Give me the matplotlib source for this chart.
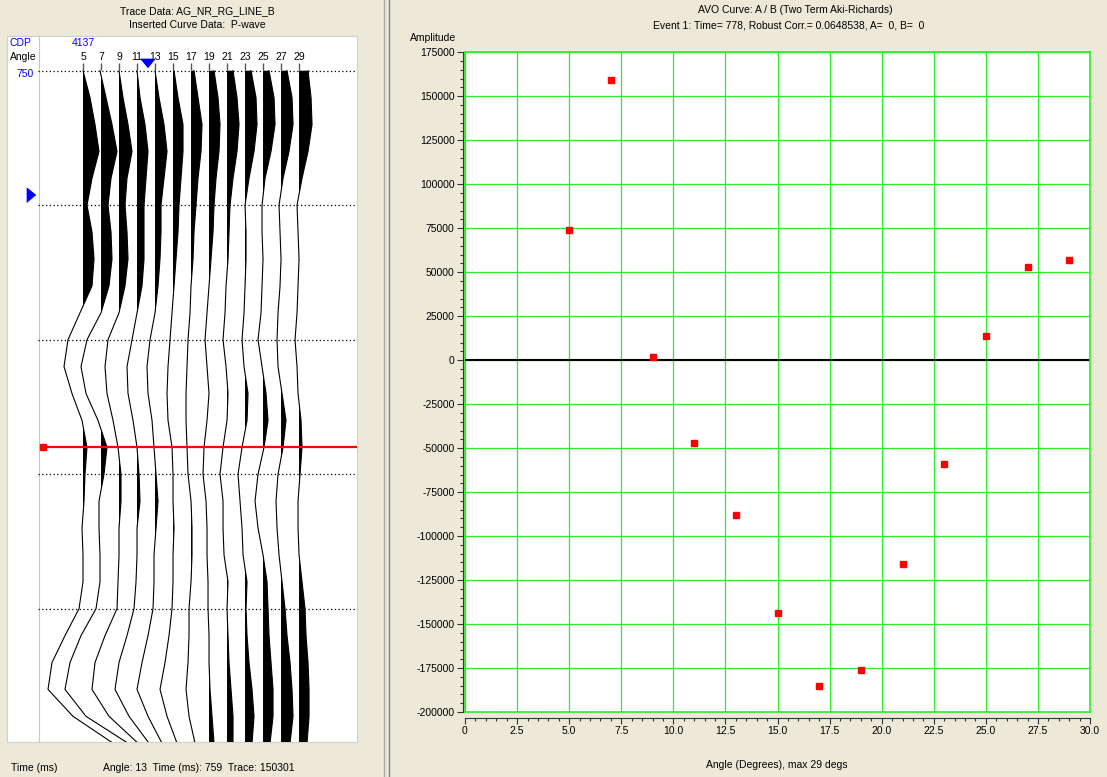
import matplotlib
matplotlib.use('Agg')
import matplotlib.pyplot as plt
import numpy as np
from matplotlib.patches import Rectangle
from matplotlib.lines import Line2D
from matplotlib.ticker import MultipleLocator, FixedLocator, FixedFormatter, FuncFormatter

# ---------------- data ----------------
# Left panel: angle gather (trace data), deflections in display units
trace_angles = [5, 7, 9, 11, 13, 15, 17, 19, 21, 23, 25, 27, 29]
sample_times = [750, 752, 754, 756, 758, 760, 762, 764, 766, 768, 770, 772, 774,
                776, 778, 780, 782, 784, 786, 788, 790, 792, 794, 796, 798, 800]
trace_05 = [0, 7, 12, 16, 9, 4, 9, 11, 9, -3, -15, -19, -11, -1, 4, 2, 1, -1, 0, 0, -4, -18, -31, -35, -10, 30]
trace_07 = [-1, 5, 11, 16, 10, 7, 10, 11, 8, 0, -14, -20, -15, -3, 6, 3, -2, -2, -1, -1, -5, -20, -31, -36, -15, 27]
trace_09 = [0, 4, 9, 13, 8, 6, 8, 9, 6, 0, -11, -14, -12, -6, -1, 2, 2, 0, 0, -1, -2, -14, -24, -27, -10, 19]
trace_11 = [0, 3, 8, 11, 9, 7, 7, 7, 5, 0, -5, -10, -9, -4, 0, 2, 3, 0, 0, -1, -3, -10, -18, -22, -8, 12]
trace_13 = [0, 4, 9, 12, 9, 6, 6, 5, 3, 0, -5, -8, -7, -3, -1, 1, 3, 1, -1, -1, -2, -7, -13, -18, -7, 7]
trace_15 = [1, 5, 10, 10, 8, 6, 5, 3, 1, -1, -3, -5, -6, -5, -1, 0, 0, 1, 0, 0, -1, -4, -8, -13, -6, 4]
trace_17 = [3, 7, 11, 10, 7, 5, 3, 2, 0, -1, -3, -4, -5, -5, -4, -3, 0, 1, 1, 0, -2, -2, -3, -5, -2, 4]
trace_19 = [5, 9, 11, 10, 7, 5, 4, 2, 0, -2, -4, -2, 0, -2, -5, -6, -3, -2, -2, -1, -1, 0, 0, 1, 3, 5]
trace_21 = [6, 10, 12, 10, 6, 3, 2, 1, -1, -2, -4, -1, 1, 0, -4, -7, -4, -4, -3, 1, 0, 1, 2, 4, 6, 6]
trace_23 = [6, 11, 12, 9, 4, 0, 1, 1, 0, -1, -3, -1, 3, 2, -3, -7, -5, -3, -2, 2, 1, 2, 4, 7, 9, 7]
trace_25 = [6, 11, 12, 8, 2, -1, -1, 0, -1, -2, -5, -1, 3, 5, 1, -5, -8, -5, 0, 4, 5, 6, 8, 10, 10, 7]
trace_27 = [6, 11, 12, 8, 2, -2, -1, 0, -1, -3, -4, -3, 1, 5, 2, -3, -5, -4, -2, 1, 4, 6, 9, 11, 12, 9]
trace_29 = [9, 12, 13, 9, 3, -2, -1, 0, -1, -2, -4, -2, -1, 2, 3, 1, -1, -1, 0, 3, 6, 7, 9, 10, 10, 8]
traces = [trace_05, trace_07, trace_09, trace_11, trace_13, trace_15, trace_17,
          trace_19, trace_21, trace_23, trace_25, trace_27, trace_29]
time_gridlines = [750, 760, 770, 780, 790]
event_time = 778
cursor_time = 759
cdp_number = '4137'

# Right panel: AVO curve points
avo_angles = [5, 7, 9, 11, 13, 15, 17, 19, 21, 23, 25, 27, 29]
avo_amplitudes = [74000, 159000, 2000, -47000, -88000, -144000, -185000,
                  -176000, -116000, -59000, 14000, 53000, 57000]
x_ticks = [0, 2.5, 5, 7.5, 10, 12.5, 15, 17.5, 20, 22.5, 25, 27.5, 30]
x_tick_labels = ['0', '2.5', '5.0', '7.5', '10.0', '12.5', '15.0', '17.5',
                 '20.0', '22.5', '25.0', '27.5', '30.0']

# ---------------- style ----------------
W, H = 1107, 777
BG = '#ECE9D8'
GREEN = '#2BEE2B'
BLUE = '#0000FF'
plt.rcParams['font.family'] = ['Liberation Sans', 'DejaVu Sans']
plt.rcParams['font.size'] = 7.5

fig = plt.figure(figsize=(W / 100, H / 100), dpi=100, facecolor=BG)


def fx(px):
    return px / W


def fy(py):
    return 1 - py / H


def rect(x0, y0, x1, y1):
    return [fx(x0), fy(y1), (x1 - x0) / W, (y1 - y0) / H]


# ---------------- left panel ----------------
fig.patches.append(Rectangle((fx(7), fy(742)), 350 / W, 706 / H, transform=fig.transFigure,
                             facecolor='white', edgecolor='#D0D0D0', lw=0.8, zorder=-5))
fig.lines.append(Line2D([fx(38.5), fx(38.5)], [fy(36), fy(742)], transform=fig.transFigure,
                        color='#C8C8C8', lw=0.8, zorder=-4))

axL = fig.add_axes(rect(38, 36, 357, 742))
XMAX_L = 35.44
axL.set_xlim(0, XMAX_L)
axL.set_ylim(799.91, 747.42)
axL.axis('off')

gain = 1 / 9.0  # display units -> angle units
times = np.asarray(sample_times, float)
for a, tr in zip(trace_angles, traces):
    amp = np.asarray(tr, float)
    xs = a + amp * gain
    pos = amp > 0
    pos[-1] = pos[-1] and pos[-2]
    axL.fill_betweenx(times, a, xs, where=pos, interpolate=True, color='black', lw=0)
    axL.plot(xs, times, color='black', lw=0.8)

axL.hlines(time_gridlines, 0, XMAX_L, colors='black', linestyles=(0, (1, 2)), lw=0.9)
axL.vlines(trace_angles, 749.45, 749.97, colors='#555555', lw=1)
for a in trace_angles:
    axL.text(a, 749.0, str(a), ha='center', va='center')

axL.hlines(event_time, 0.5, XMAX_L, colors='red', lw=1.6)
axL.plot(0.5, event_time, 's', ms=5, color='red', clip_on=False)
axL.plot(-0.83, cursor_time + 0.24, marker=[(-0.6, -1), (-0.6, 1), (0.6, 0)], ms=10,
         color=BLUE, clip_on=False, lw=0)
axL.plot(12.1, 749.46, marker=[(-1, 0.6), (1, 0.6), (0, -0.6)], ms=10,
         color=BLUE, clip_on=False, lw=0)

fig.text(fx(197.5), fy(11), 'Trace Data: AG_NR_RG_LINE_B', ha='center', va='center')
fig.text(fx(197.5), fy(25), 'Inserted Curve Data:  P-wave', ha='center', va='center')
fig.text(fx(10), fy(43), 'CDP', color=BLUE, va='center')
fig.text(fx(72), fy(43), cdp_number, color=BLUE, va='center')
fig.text(fx(10), fy(57), 'Angle', va='center')
fig.text(fx(34), fy(74), str(time_gridlines[0]), color=BLUE, va='center', ha='right')
fig.text(fx(11), fy(768), 'Time (ms)', va='center')
fig.text(fx(103), fy(768), 'Angle: 13  Time (ms): 759  Trace: 150301', va='center')

# divider
fig.lines.append(Line2D([fx(383.5), fx(383.5)], [0, 1], transform=fig.transFigure, color='#A8A8A8', lw=1))
fig.lines.append(Line2D([fx(388.5), fx(388.5)], [0, 1], transform=fig.transFigure, color='#808080', lw=1))

# ---------------- right panel ----------------
axR = fig.add_axes(rect(465, 52.3, 1090, 712))
axR.set_facecolor('white')
axR.set_xlim(0, 30)
axR.set_ylim(-200000, 175000)
axR.xaxis.set_major_locator(FixedLocator(x_ticks))
axR.xaxis.set_major_formatter(FixedFormatter(x_tick_labels))
axR.xaxis.set_minor_locator(MultipleLocator(0.5))
axR.yaxis.set_major_locator(MultipleLocator(25000))
axR.yaxis.set_minor_locator(MultipleLocator(5000))
axR.yaxis.set_major_formatter(FuncFormatter(lambda v, p: f'{int(round(v))}'))
axR.grid(True, which='major', color=GREEN, lw=0.9)
axR.set_axisbelow(True)
for s in axR.spines.values():
    s.set_color(GREEN)
    s.set_linewidth(1.2)
axR.spines['left'].set_position(('outward', 1.5))
axR.spines['left'].set_color('#333333')
axR.spines['left'].set_linewidth(0.8)
axR.spines['bottom'].set_position(('outward', 4.3))
axR.spines['bottom'].set_color('#333333')
axR.spines['bottom'].set_linewidth(0.8)
axR.axvline(0, color=GREEN, lw=1.2, clip_on=False)
axR.axhline(-200000, color=GREEN, lw=1.2, clip_on=False)
axR.axhline(0, color='black', lw=1.5)
axR.tick_params(which='major', direction='out', length=4, width=0.8, color='#333333', pad=2)
axR.tick_params(which='minor', direction='out', length=2.5, width=0.8, color='#333333')
axR.plot(avo_angles, avo_amplitudes, 's', color='#FF0000', ms=5, lw=0, zorder=5)

fig.text(fx(795), fy(10), 'AVO Curve: A / B (Two Term Aki-Richards)', ha='center', va='center')
fig.text(fx(789), fy(25), 'Event 1: Time= 778, Robust Corr.= 0.0648538, A=  0, B=  0',
         ha='center', va='center')
fig.text(fx(433), fy(38), 'Amplitude', ha='center', va='center')
fig.text(fx(777), fy(765), 'Angle (Degrees), max 29 degs', ha='center', va='center')

fig.savefig('out.png', dpi=100, facecolor=BG)
